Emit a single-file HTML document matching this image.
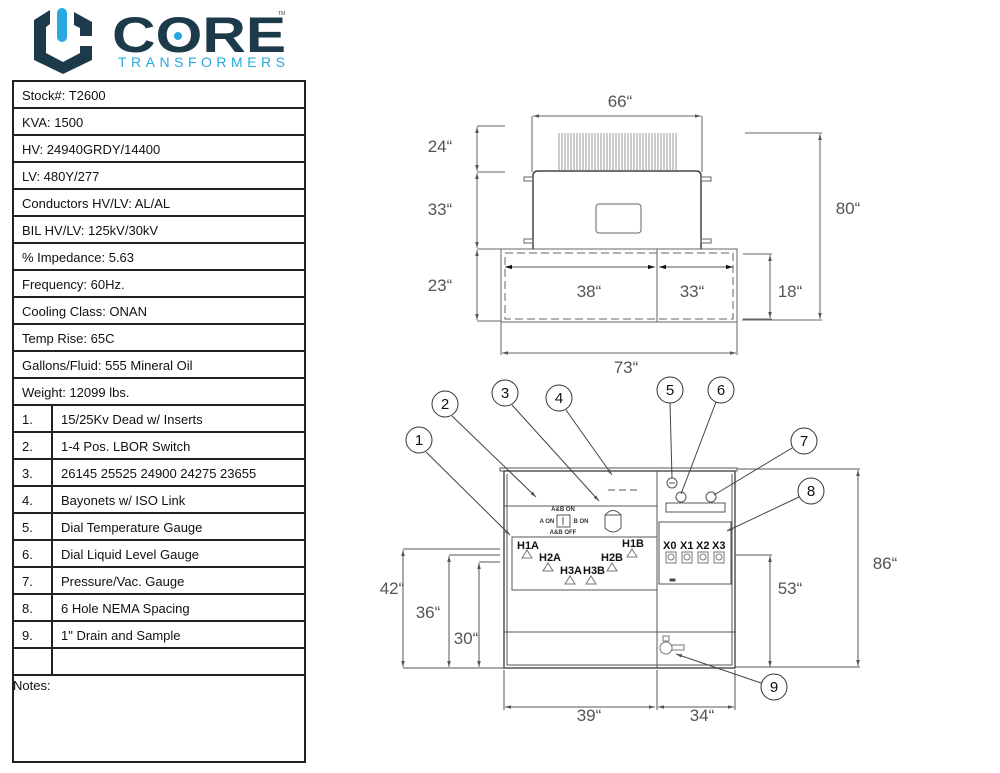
<!DOCTYPE html>
<html><head><style>
body{margin:0;background:#fff;width:1000px;height:773px;overflow:hidden;font-family:"Liberation Sans",sans-serif}
svg{position:absolute;left:0;top:0}
</style></head><body>
<svg width="1000" height="773" viewBox="0 0 1000 773" xmlns="http://www.w3.org/2000/svg" font-family="Liberation Sans, sans-serif">
<defs>
<marker id="a" viewBox="0 0 10 10" refX="10" refY="5" markerWidth="6" markerHeight="6" orient="auto-start-reverse"><path d="M0,2L10,5L0,8z" fill="#555"/></marker>
<marker id="b" viewBox="0 0 10 10" refX="10" refY="5" markerWidth="7" markerHeight="7" orient="auto-start-reverse"><path d="M0,2L10,5L0,8z" fill="#111"/></marker>
</defs>
<!-- logo -->
<path d="M50,10 L34,20 L34,60 L63,74 L92,60 L92,46 L80,46 L80,53 L63,62 L46,53 L46,27 L50,24 Z" fill="#1c3a4a"/>
<path d="M74,12 L92,22 L92,36 L80,36 L80,28 L74,25 Z" fill="#1c3a4a"/>
<rect x="57" y="8" width="10" height="34" rx="5" fill="#27a9e0"/>
<text x="112" y="52" font-size="50" font-weight="bold" fill="#1c3a4a" textLength="174" lengthAdjust="spacingAndGlyphs">CORE</text>
<circle cx="178" cy="36" r="4" fill="#27a9e0"/>
<text x="118" y="67" font-size="14" fill="#27a9e0" textLength="167" lengthAdjust="spacing">TRANSFORMERS</text>
<text x="278" y="15" font-size="5" fill="#1c3a4a">TM</text>
<!-- table -->
<g stroke="#222" stroke-width="2" fill="none">
<rect x="13" y="81" width="292" height="681"/>
<path d="M13,108H305M13,135H305M13,162H305M13,189H305M13,216H305M13,243H305M13,270H305M13,297H305M13,324H305M13,351H305M13,378H305M13,405H305M13,432H305M13,459H305M13,486H305M13,513H305M13,540H305M13,567H305M13,594H305M13,621H305M13,648H305M13,675H305M52,405V675"/>
</g>
<g font-size="13" fill="#111">
<text x="22" y="100">Stock#: T2600</text>
<text x="22" y="127">KVA: 1500</text>
<text x="22" y="154">HV: 24940GRDY/14400</text>
<text x="22" y="181">LV: 480Y/277</text>
<text x="22" y="208">Conductors HV/LV: AL/AL</text>
<text x="22" y="235">BIL HV/LV: 125kV/30kV</text>
<text x="22" y="262">% Impedance: 5.63</text>
<text x="22" y="289">Frequency: 60Hz.</text>
<text x="22" y="316">Cooling Class: ONAN</text>
<text x="22" y="343">Temp Rise: 65C</text>
<text x="22" y="370">Gallons/Fluid: 555 Mineral Oil</text>
<text x="22" y="397">Weight: 12099 lbs.</text>
<text x="22" y="424">1.</text><text x="61" y="424">15/25Kv Dead w/ Inserts</text>
<text x="22" y="451">2.</text><text x="61" y="451">1-4 Pos. LBOR Switch</text>
<text x="22" y="478">3.</text><text x="61" y="478">26145 25525 24900 24275 23655</text>
<text x="22" y="505">4.</text><text x="61" y="505">Bayonets w/ ISO Link</text>
<text x="22" y="532">5.</text><text x="61" y="532">Dial Temperature Gauge</text>
<text x="22" y="559">6.</text><text x="61" y="559">Dial Liquid Level Gauge</text>
<text x="22" y="586">7.</text><text x="61" y="586">Pressure/Vac. Gauge</text>
<text x="22" y="613">8.</text><text x="61" y="613">6 Hole NEMA Spacing</text>
<text x="22" y="640">9.</text><text x="61" y="640">1" Drain and Sample</text>
<text x="13" y="690">Notes:</text>
</g>
<!-- top view -->
<g stroke="#666" stroke-width="1" fill="none">
<g stroke="#999">
<path d="M559,133V170M562,133V170M565,133V170M568,133V170M571,133V170M574,133V170M577,133V170M580,133V170M583,133V170M586,133V170M589,133V170M592,133V170M595,133V170M598,133V170M601,133V170M604,133V170M607,133V170M610,133V170M613,133V170M616,133V170M619,133V170M622,133V170M625,133V170M628,133V170M631,133V170M634,133V170M637,133V170M640,133V170M643,133V170M646,133V170M649,133V170M652,133V170M655,133V170M658,133V170M661,133V170M664,133V170M667,133V170M670,133V170M673,133V170M676,133V170"/>
</g>
<path d="M533,249V176Q533,171 538,171H696Q701,171 701,176V249" stroke="#444" stroke-width="1.5"/>
<rect x="524" y="177" width="9" height="4"/><rect x="701" y="177" width="10" height="4"/>
<rect x="524" y="239" width="9" height="4"/><rect x="701" y="239" width="10" height="4"/>
<rect x="596" y="204" width="45" height="29" rx="3"/>
<rect x="501" y="249" width="236" height="73"/>
<rect x="505" y="253" width="228" height="66" stroke-dasharray="8,4"/>
<path d="M657,249V322"/>
<path d="M505,267H655" marker-start="url(#b)" marker-end="url(#b)" stroke="#555"/>
<path d="M659,267H733" marker-start="url(#b)" marker-end="url(#b)" stroke="#555"/>
<path d="M743,254H772M743,319H772"/>
<path d="M770,255V318" marker-start="url(#a)" marker-end="url(#a)"/>
<path d="M745,133H822M742,320H822"/>
<path d="M820,134V319" marker-start="url(#a)" marker-end="url(#a)"/>
<path d="M477,126H505M477,172H505M477,249H505M477,321H501"/>
<path d="M477,127V171" marker-start="url(#a)" marker-end="url(#a)"/>
<path d="M477,173V248" marker-start="url(#a)" marker-end="url(#a)"/>
<path d="M477,250V320" marker-start="url(#a)" marker-end="url(#a)"/>
<path d="M532,116V172M702,116V172"/>
<path d="M533,116H701" marker-start="url(#a)" marker-end="url(#a)"/>
<path d="M501,322V355M737,322V355"/>
<path d="M502,353H736" marker-start="url(#a)" marker-end="url(#a)"/>
</g>
<g font-size="17" fill="#555" text-anchor="middle">
<text x="620" y="107">66“</text>
<text x="440" y="152">24“</text>
<text x="440" y="215">33“</text>
<text x="440" y="291">23“</text>
<text x="589" y="297">38“</text>
<text x="692" y="297">33“</text>
<text x="790" y="297">18“</text>
<text x="848" y="214">80“</text>
<text x="626" y="373">73“</text>
<text x="392" y="594">42“</text>
<text x="428" y="618">36“</text>
<text x="466" y="644">30“</text>
<text x="790" y="594">53“</text>
<text x="885" y="569">86“</text>
<text x="589" y="721">39“</text>
<text x="702" y="721">34“</text>
</g>
<!-- front view -->
<g stroke="#555" stroke-width="1" fill="none">
<rect x="500" y="468" width="237" height="3" stroke-width="1"/>
<rect x="504" y="471" width="231" height="197" stroke-width="1.5"/>
<path d="M507,474V665H732V474"/>
<path d="M657,471V668M504,506H657M504,632H735"/>
<rect x="512" y="537" width="145" height="53"/>
<rect x="659" y="522" width="72" height="62"/>
<rect x="666" y="503" width="59" height="9"/>
<circle cx="672" cy="483" r="5"/><path d="M669,483H675"/>
<circle cx="681" cy="497" r="5"/><circle cx="711" cy="497" r="5"/>
<rect x="557" y="515" width="13" height="12"/><path d="M563,517V525"/>
<path d="M605,515Q613,506 621,515V528Q613,536 605,528Z"/><path d="M605,515H621"/>
<path d="M608,490h7M619,490h7M630,490h7"/>
<g stroke="#777">
<rect x="666" y="552" width="10" height="11"/><circle cx="671" cy="557" r="3"/>
<rect x="682" y="552" width="10" height="11"/><circle cx="687" cy="557" r="3"/>
<rect x="698" y="552" width="10" height="11"/><circle cx="703" cy="557" r="3"/>
<rect x="714" y="552" width="10" height="11"/><circle cx="719" cy="557" r="3"/>
<path d="M522,558l5,-8l5,8zM543,571l5,-8l5,8zM627,557l5,-8l5,8zM607,571l5,-8l5,8zM565,584l5,-8l5,8zM586,584l5,-8l5,8z"/>
<circle cx="666" cy="648" r="6"/><rect x="672" y="645" width="12" height="5"/><rect x="663" y="636" width="6" height="5"/>
</g>
<rect x="670" y="579" width="5" height="2" fill="#333"/>
<!-- dims -->
<path d="M403,549H500M449,555H500M479,562H500M403,668H504"/>
<path d="M403,550V667" marker-start="url(#a)" marker-end="url(#a)"/>
<path d="M449,556V667" marker-start="url(#a)" marker-end="url(#a)"/>
<path d="M479,563V667" marker-start="url(#a)" marker-end="url(#a)"/>
<path d="M735,555H772"/>
<path d="M770,556V667" marker-start="url(#a)" marker-end="url(#a)"/>
<path d="M737,469H860M735,667H860"/>
<path d="M858,470V666" marker-start="url(#a)" marker-end="url(#a)"/>
<path d="M504,670V710M657,670V710M735,670V710"/>
<path d="M505,707H655" marker-start="url(#a)" marker-end="url(#a)"/>
<path d="M658,707H734" marker-start="url(#a)" marker-end="url(#a)"/>
<!-- leaders -->
<g stroke="#444">
<path d="M426,452L510,535" marker-end="url(#a)"/>
<path d="M452,416L536,497" marker-end="url(#a)"/>
<path d="M512,405L599,501" marker-end="url(#a)"/>
<path d="M566,410L612,475" marker-end="url(#a)"/>
<path d="M670,403L672,478"/>
<path d="M716,402L681,494"/>
<path d="M792,448L714,495"/>
<path d="M799,497L727,531" marker-end="url(#a)"/>
<path d="M761,683L676,654" marker-end="url(#a)"/>
</g>
</g>
<g stroke="#333" stroke-width="1" fill="#fff">
<circle cx="419" cy="440" r="13"/><circle cx="445" cy="404" r="13"/><circle cx="505" cy="393" r="13"/>
<circle cx="559" cy="398" r="13"/><circle cx="670" cy="390" r="13"/><circle cx="721" cy="390" r="13"/>
<circle cx="804" cy="441" r="13"/><circle cx="811" cy="491" r="13"/><circle cx="774" cy="687" r="13"/>
</g>
<g font-size="15" fill="#111" text-anchor="middle">
<text x="419" y="445">1</text><text x="445" y="409">2</text><text x="505" y="398">3</text>
<text x="559" y="403">4</text><text x="670" y="395">5</text><text x="721" y="395">6</text>
<text x="804" y="446">7</text><text x="811" y="496">8</text><text x="774" y="692">9</text>
</g>
<g font-size="6" font-weight="bold" fill="#333" text-anchor="middle">
<text x="563" y="511">A&amp;B ON</text><text x="547" y="523">A ON</text><text x="581" y="523">B ON</text><text x="563" y="534">A&amp;B OFF</text>
</g>
<g font-size="11" font-weight="bold" fill="#111">
<text x="517" y="549">H1A</text><text x="539" y="561">H2A</text><text x="622" y="547">H1B</text>
<text x="601" y="561">H2B</text><text x="560" y="574">H3A</text><text x="583" y="574">H3B</text>
<text x="663" y="549">X0</text><text x="680" y="549">X1</text><text x="696" y="549">X2</text><text x="712" y="549">X3</text>
</g>
</svg>
</body></html>
